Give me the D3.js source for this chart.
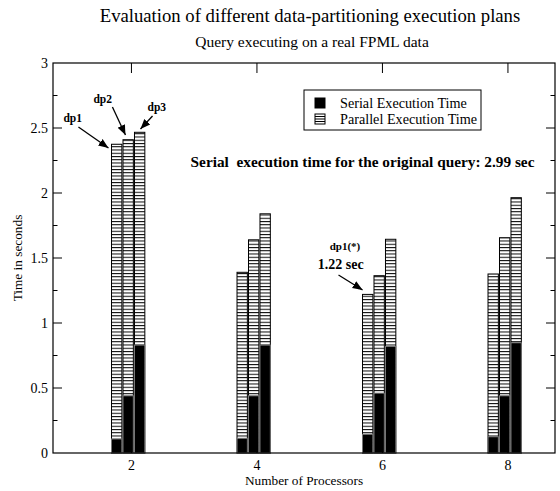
<!DOCTYPE html>
<html>
<head>
<meta charset="utf-8">
<script src="https://cdn.jsdelivr.net/npm/d3@7"></script>
<style>
  body { margin: 0; background: #fff; }
  svg { display: block; font-family: "Liberation Serif", "Times New Roman", serif; }
</style>
</head>
<body>
<div id="chart"></div>
<script>
const processors = [2, 4, 6, 8];
const plans = ["dp1", "dp2", "dp3"];
// total (parallel) execution time per plan, one value per processor count
const parallelTime = {
  dp1: [2.375, 1.39, 1.22, 1.377],
  dp2: [2.41, 1.64, 1.364, 1.656],
  dp3: [2.467, 1.84, 1.644, 1.964]
};
const serialTime = {
  dp1: [0.108, 0.113, 0.144, 0.125],
  dp2: [0.44, 0.44, 0.46, 0.44],
  dp3: [0.83, 0.83, 0.82, 0.848]
};
const yTicks = [0, 0.5, 1, 1.5, 2, 2.5, 3];
const yMinor = [0.25, 0.75, 1.25, 1.75, 2.25, 2.75];
const legendItems = ["Serial Execution Time", "Parallel Execution Time"];

// annotations in data units
const labels = [
  { text: "dp1", x: 0.916, y: 2.546, size: 11.5 },
  { text: "dp2", x: 1.394, y: 2.692, size: 11.5 },
  { text: "dp3", x: 2.256, y: 2.631, size: 11.5 },
  { text: "dp1(*)", x: 5.16, y: 1.562, size: 11 },
  { text: "1.22 sec", x: 4.97, y: 1.415, size: 14 },
  { text: "Serial  execution time for the original query: 2.99 sec", x: 2.943, y: 2.2, size: 15.3 }
];
const arrows = [
  { x1: 1.155, y1: 2.508, x2: 1.634, y2: 2.346 },
  { x1: 1.697, y1: 2.662, x2: 1.905, y2: 2.446 },
  { x1: 2.336, y1: 2.592, x2: 2.144, y2: 2.492 },
  { x1: 5.30, y1: 1.369, x2: 5.684, y2: 1.254 }
];

const width = 560, height = 491;
const margin = { top: 63, right: 5, bottom: 38, left: 53 };

const svg = d3.select("#chart").append("svg")
  .attr("width", width).attr("height", height);

const defs = svg.append("defs");
const hatch = defs.append("pattern")
  .attr("id", "hatch").attr("patternUnits", "userSpaceOnUse")
  .attr("width", 8).attr("height", 3.25);
hatch.append("rect").attr("width", 8).attr("height", 3.25).attr("fill", "#fff");
hatch.append("rect").attr("width", 8).attr("height", 1).attr("fill", "#000");

defs.append("marker")
  .attr("id", "arrow").attr("viewBox", "0 0 10 10")
  .attr("refX", 10).attr("refY", 5)
  .attr("markerWidth", 10).attr("markerHeight", 10)
  .attr("markerUnits", "userSpaceOnUse")
  .attr("orient", "auto")
  .append("path").attr("d", "M0,1 L10,5 L0,9 Z").attr("fill", "#000");

const x = d3.scaleLinear().domain([0.75, 8.75]).range([margin.left, width - margin.right]);
const y = d3.scaleLinear().domain([0, 3]).range([height - margin.bottom, margin.top]);

const barW = 0.165;
const offsets = { dp1: -0.235, dp2: -0.052, dp3: 0.131 };

const bars = [];
plans.forEach(p => processors.forEach((n, i) => {
  bars.push({ plan: p, n, total: parallelTime[p][i], serial: serialTime[p][i] });
}));

const barG = svg.append("g");
barG.selectAll(".par").data(bars).join("rect")
  .attr("x", d => x(d.n + offsets[d.plan] - barW / 2))
  .attr("width", d => x(barW) - x(0))
  .attr("y", d => y(d.total))
  .attr("height", d => y(0) - y(d.total))
  .attr("fill", "url(#hatch)")
  .attr("stroke", "#000").attr("stroke-width", 1);

barG.selectAll(".ser").data(bars).join("rect")
  .attr("x", d => x(d.n + offsets[d.plan] - barW / 2))
  .attr("width", d => x(barW) - x(0))
  .attr("y", d => y(d.serial))
  .attr("height", d => y(0) - y(d.serial))
  .attr("fill", "#000")
  .attr("stroke", "#777").attr("stroke-width", 1);

// frame
svg.append("rect")
  .attr("x", x(0.75)).attr("y", y(3))
  .attr("width", x(8.75) - x(0.75)).attr("height", y(0) - y(3))
  .attr("fill", "none").attr("stroke", "#000").attr("stroke-width", 1.2);

// y ticks, left and right, inward
const tickG = svg.append("g").attr("stroke", "#000").attr("stroke-width", 1);
[[x(0.75), 1], [x(8.75), -1]].forEach(([x0, dir]) => {
  tickG.selectAll(null).data(yTicks.slice(1, -1)).join("line")
    .attr("x1", x0).attr("x2", x0 + dir * 9)
    .attr("y1", d => y(d)).attr("y2", d => y(d));
  tickG.selectAll(null).data(yMinor).join("line")
    .attr("x1", x0).attr("x2", x0 + dir * 4.5)
    .attr("y1", d => y(d)).attr("y2", d => y(d));
});
// x ticks top and bottom, inward
[[y(3), 1], [y(0), -1]].forEach(([y0, dir]) => {
  tickG.selectAll(null).data(processors).join("line")
    .attr("x1", d => x(d)).attr("x2", d => x(d))
    .attr("y1", y0).attr("y2", y0 + dir * 10);
});

svg.append("g").selectAll("text").data(yTicks).join("text")
  .attr("x", x(0.75) - 5).attr("y", d => y(d) + 5)
  .attr("text-anchor", "end").attr("font-size", 14)
  .text(d => d);

svg.append("g").selectAll("text").data(processors).join("text")
  .attr("x", d => x(d)).attr("y", y(0) + 17)
  .attr("text-anchor", "middle").attr("font-size", 14)
  .text(d => d);

svg.append("text")
  .attr("x", (x(0.75) + x(8.75)) / 2).attr("y", y(0) + 32)
  .attr("text-anchor", "middle").attr("font-size", 13.3)
  .text("Number of Processors");

svg.append("text")
  .attr("transform", `translate(22,${(y(0) + y(3)) / 2}) rotate(-90)`)
  .attr("text-anchor", "middle").attr("font-size", 13.3)
  .text("Time in seconds");

svg.append("text")
  .attr("x", 310).attr("y", 22)
  .attr("text-anchor", "middle").attr("font-size", 18.7)
  .text("Evaluation of different data-partitioning execution plans");

svg.append("text")
  .attr("x", 312).attr("y", 47)
  .attr("text-anchor", "middle").attr("font-size", 15.5)
  .text("Query executing on a real FPML data");

// legend
const lg = svg.append("g").attr("transform", "translate(304,90)");
lg.append("rect").attr("width", 177).attr("height", 40)
  .attr("fill", "#fff").attr("stroke", "#000").attr("stroke-width", 1);
const li = lg.selectAll("g").data(legendItems).join("g")
  .attr("transform", (d, i) => `translate(0,${8 + i * 16})`);
li.append("rect").attr("x", 11).attr("width", 10).attr("height", 10)
  .attr("fill", (d, i) => i === 0 ? "#000" : "#fff")
  .attr("stroke", "#000").attr("stroke-width", 1);
li.filter((d, i) => i === 1).selectAll("line").data([2.5, 5, 7.5]).join("line")
  .attr("x1", 11).attr("x2", 21).attr("y1", d => d).attr("y2", d => d)
  .attr("stroke", "#000").attr("stroke-width", 1);
li.append("text").attr("x", 36).attr("y", 9.5).attr("font-size", 14.2)
  .text(d => d);

// annotations
svg.append("g").selectAll("text").data(labels).join("text")
  .attr("x", d => x(d.x)).attr("y", d => y(d.y))
  .attr("font-size", d => d.size).attr("font-weight", "bold")
  .style("white-space", "pre")
  .text(d => d.text);

svg.append("g").selectAll("line").data(arrows).join("line")
  .attr("x1", d => x(d.x1)).attr("y1", d => y(d.y1))
  .attr("x2", d => x(d.x2)).attr("y2", d => y(d.y2))
  .attr("stroke", "#000").attr("stroke-width", 1.3)
  .attr("marker-end", "url(#arrow)");
</script>
</body>
</html>
